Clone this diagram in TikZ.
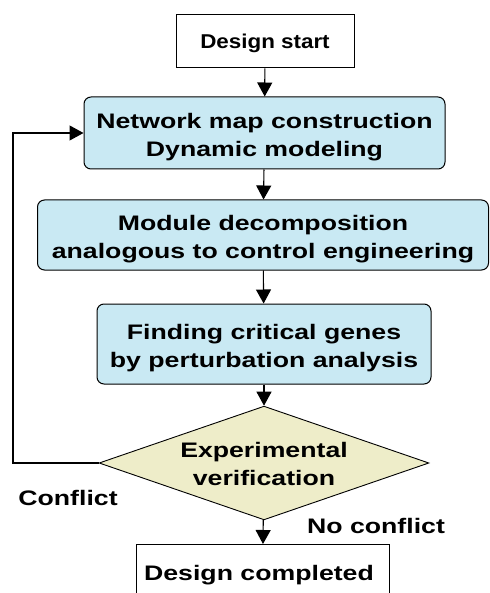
\documentclass[tikz,border=0pt]{standalone}
\usepackage{fontspec}
\setmainfont{Liberation Sans}
\newfontfamily\flowfont[FakeStretch=1.27]{Liberation Sans}
\newfontfamily\startfont[FakeStretch=1.12]{Liberation Sans}
\usetikzlibrary{arrows.meta,shapes.geometric}
\definecolor{boxblue}{HTML}{C9E9F3}
\definecolor{diafill}{HTML}{EEEDC9}
% lower a two-line label inside its box without changing the box size
\newcommand{\droptext}[2]{\raisebox{-#1}[\height][\depth]{\begin{tabular}{@{}c@{}}#2\end{tabular}}}
\begin{document}
\begin{tikzpicture}[x=1pt,y=-1pt,
  every node/.style={font=\flowfont\fontsize{21}{28}\selectfont\bfseries, align=center, inner sep=0pt},
  plain/.style={draw=black, line width=1pt, fill=white},
  stage/.style={draw=black, line width=1pt, fill=boxblue, rounded corners=7pt},
  arr/.style={-{Triangle[width=15pt,length=14pt]}, line width=1.1pt}]
\useasboundingbox (0,0) rectangle (489,593);
\begin{scope}
\clip (0,0) rectangle (489,593);
\node[plain, minimum width=178, minimum height=53, font=\startfont\fontsize{20}{24}\selectfont\bfseries] (start) at (265,41.5) {\droptext{2.5pt}{Design start}};
\node[stage, minimum width=361, minimum height=72] (net) at (264.5,133) {\droptext{4pt}{Network map construction\\Dynamic modeling}};
\node[stage, minimum width=451, minimum height=70] (mod) at (263,235) {\droptext{4pt}{Module decomposition\\analogous to control engineering}};
\node[stage, minimum width=334, minimum height=80] (crit) at (264,344) {\droptext{4pt}{Finding critical genes\\by perturbation analysis}};
\node[diamond, draw=black, line width=0.9pt, fill=diafill, aspect=2.9, minimum width=327, minimum height=112] (ver) at (264,463) {\droptext{3pt}{Experimental\\verification}};
\node[plain, minimum width=253, minimum height=70, anchor=north] (done) at (262.5,544) {};
\node (donetxt) at (259,575) {Design completed};
\node (conf) at (68,498) {Conflict};
\node (noconf) at (376,526) {No conflict};
\coordinate (loop) at (13,133);
\draw[arr] (start) -- (net);
\draw[arr] (net) -- (mod);
\draw[arr] (mod) -- (crit);
\draw[arr] (crit) -- (ver);
\draw[arr] (ver) -- (done);
\draw[arr] (ver.west) -| (loop) -- (net.west);
\end{scope}
\end{tikzpicture}
\end{document}
